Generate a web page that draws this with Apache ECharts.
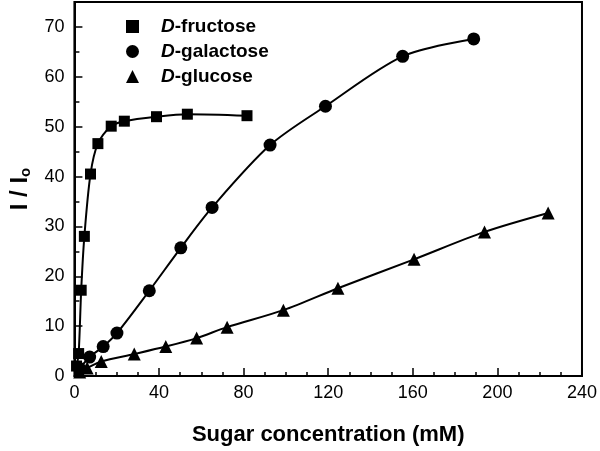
<!DOCTYPE html>
<html><head><meta charset="utf-8">
<script src="https://cdn.jsdelivr.net/npm/echarts@6/dist/echarts.min.js"></script>
<style>html,body{margin:0;padding:0;background:#fff}#c{width:600px;height:451px}</style>
</head><body><div id="c"></div>
<script>
// Data (x: mM, y: I/Io)
const fructoseX = [1, 2, 3.2, 4.7, 7.6, 11.1, 17.4, 23.6, 38.8, 53.4, 81.6];
const fructoseY = [2, 4.5, 17.2, 28.0, 40.5, 46.6, 50.1, 51.1, 52.0, 52.5, 52.2];
const galactoseX = [2.5, 7.2, 13.6, 20.1, 35.4, 50.3, 65.1, 92.5, 118.7, 155.2, 188.8];
const galactoseY = [1.5, 3.8, 5.9, 8.6, 17.1, 25.7, 33.8, 46.3, 54.1, 64.1, 67.6];
const glucoseX = [2.5, 6, 12.7, 28.3, 43.2, 57.8, 72.2, 98.8, 124.6, 160.6, 193.9, 224];
const glucoseY = [0.8, 1.6, 2.9, 4.4, 5.9, 7.6, 9.8, 13.2, 17.6, 23.4, 28.9, 32.7];
const seriesNames = ['D-fructose', 'D-galactose', 'D-glucose'];
const xTicks = [0, 40, 80, 120, 160, 200, 240];
const yTicks = [0, 10, 20, 30, 40, 50, 60, 70];

const zip = (xs, ys) => xs.map((x, i) => [x, ys[i]]);
const font = 'Liberation Sans, Arial, sans-serif';
const mk = (name, xs, ys, sym, size) => ({
  name, type: 'line', data: zip(xs, ys), smooth: 0.3,
  symbol: sym, symbolSize: size, showAllSymbol: true,
  lineStyle: { color: '#000', width: 2 },
  itemStyle: { color: '#000', borderWidth: 0 }
});
const chart = echarts.init(document.getElementById('c'), null, { renderer: 'canvas' });
chart.setOption({
  animation: false,
  backgroundColor: '#fff',
  grid: { left: 73, right: 16, top: 2, bottom: 73, show: true, borderColor: '#000', borderWidth: 2, backgroundColor: 'transparent' },
  legend: {
    orient: 'vertical', left: 121, top: 12, itemGap: 6, itemWidth: 13, itemHeight: 13,
    data: [
      { name: seriesNames[0], icon: 'rect' },
      { name: seriesNames[1], icon: 'circle' },
      { name: seriesNames[2], icon: 'triangle' }
    ],
    formatter: n => '{s|}{i|D}{n|' + n.slice(1) + '}',
    textStyle: {
      color: '#000',
      rich: {
        s: { width: 17 },
        i: { fontFamily: font, fontSize: 19, fontWeight: 'bold', fontStyle: 'italic', color: '#000', lineHeight: 20 },
        n: { fontFamily: font, fontSize: 19, fontWeight: 'bold', color: '#000', lineHeight: 20 }
      }
    }
  },
  xAxis: {
    type: 'value', min: 0, max: 240, interval: 40,
    name: 'Sugar concentration (mM)', nameLocation: 'middle', nameGap: 48,
    nameTextStyle: { fontFamily: font, fontSize: 22, fontWeight: 'bold', color: '#000' },
    axisLine: { lineStyle: { color: '#000', width: 2 } },
    axisTick: { inside: true, length: 8, lineStyle: { color: '#000', width: 1.5 } },
    minorTick: { show: true, splitNumber: 4, length: 4, lineStyle: { color: '#000', width: 1.5 } },
    splitLine: { show: false },
    axisLabel: { fontFamily: font, fontSize: 18, color: '#000', margin: 8,
      formatter: v => xTicks.includes(v) ? String(v) : '' }
  },
  yAxis: {
    type: 'value', min: 0, max: 75, interval: 10,
    name: '{a|I / I}{b|o}', nameLocation: 'middle', nameGap: 38, nameRotate: 90,
    nameTextStyle: { rich: {
      a: { fontFamily: font, fontSize: 24, fontWeight: 'bold', color: '#000' },
      b: { fontFamily: font, fontSize: 15, fontWeight: 'bold', color: '#000', padding: [12, 0, 0, 0] }
    } },
    axisLine: { lineStyle: { color: '#000', width: 2 } },
    axisTick: { inside: true, length: 8, lineStyle: { color: '#000', width: 1.5 } },
    minorTick: { show: true, splitNumber: 2, length: 5, lineStyle: { color: '#000', width: 1.5 } },
    splitLine: { show: false },
    axisLabel: { fontFamily: font, fontSize: 18, color: '#000', margin: 10, showMaxLabel: false,
      formatter: v => yTicks.includes(v) ? String(v) : '' }
  },
  series: [
    mk(seriesNames[0], fructoseX, fructoseY, 'rect', 11),
    mk(seriesNames[1], galactoseX, galactoseY, 'circle', 13),
    mk(seriesNames[2], glucoseX, glucoseY, 'triangle', 13)
  ]
});
</script></body></html>
